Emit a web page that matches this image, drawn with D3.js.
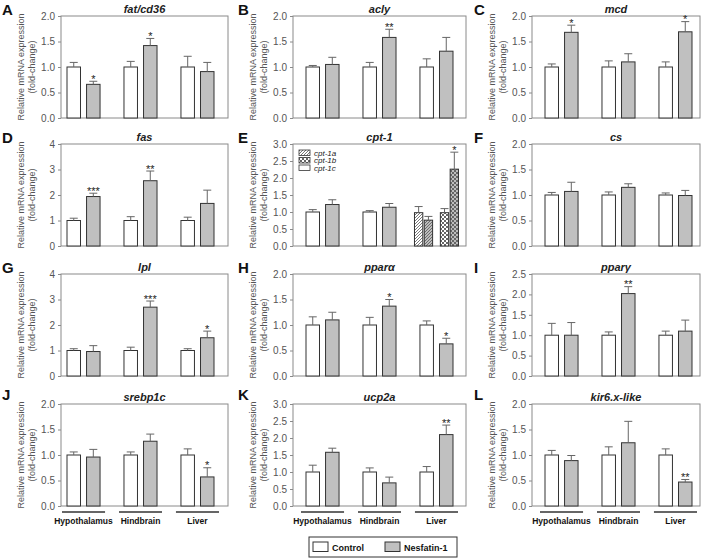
<!DOCTYPE html>
<html><head><meta charset="utf-8">
<script src="https://cdn.jsdelivr.net/npm/d3@7"></script>
<style>
body{margin:0;background:#fff}
svg{display:block}
text{font-family:"Liberation Sans",Arial,sans-serif}
</style>
</head><body>
<svg id="chart" width="708" height="560"></svg>
<script>
// ---------------- DATA ----------------
const groups = ["Hypothalamus", "Hindbrain", "Liver"];
const series = ["Control", "Nesfatin-1"];
const panelLetters = ["A","B","C","D","E","F","G","H","I","J","K","L"];
const genes = ["fat/cd36","acly","mcd","fas","cpt-1","cs","lpl","pparα","pparγ","srebp1c","ucp2a","kir6.x-like"];
const yMax  = [2, 2, 2, 4, 3, 2, 4, 2, 2.5, 2, 3, 2];
const yStep = [0.5,0.5,0.5,1,0.5,0.5,1,0.5,0.5,0.5,0.5,0.5];

// mean values per gene: [Hypothalamus, Hindbrain, Liver]
const controlMean = [
  [1.00,1.00,1.00],[1.00,1.00,1.00],[1.00,1.00,1.00],
  [1.00,1.00,1.00],[1.00,1.00,null],[1.00,1.00,1.00],
  [1.00,1.00,1.00],[1.00,1.00,1.00],[1.00,1.00,1.00],
  [1.00,1.00,1.00],[1.00,1.00,1.00],[1.00,1.00,1.00]
];
const controlSem = [
  [0.09,0.11,0.21],[0.03,0.09,0.16],[0.06,0.12,0.10],
  [0.09,0.15,0.13],[0.07,0.04,null],[0.05,0.06,0.04],
  [0.07,0.13,0.07],[0.16,0.15,0.08],[0.29,0.08,0.10],
  [0.06,0.06,0.12],[0.20,0.12,0.16],[0.09,0.16,0.12]
];
const nesfatinMean = [
  [0.66,1.42,0.91],[1.05,1.58,1.31],[1.68,1.10,1.69],
  [1.94,2.56,1.67],[1.22,1.14,null],[1.07,1.15,0.99],
  [0.96,2.70,1.50],[1.10,1.37,0.63],[1.00,2.02,1.10],
  [0.96,1.27,0.57],[1.58,0.68,2.10],[0.89,1.24,0.47]
];
const nesfatinSem = [
  [0.06,0.14,0.18],[0.14,0.16,0.27],[0.14,0.16,0.20],
  [0.13,0.38,0.52],[0.14,0.11,null],[0.18,0.07,0.10],
  [0.23,0.24,0.26],[0.15,0.13,0.11],[0.31,0.17,0.27],
  [0.15,0.14,0.18],[0.12,0.17,0.28],[0.10,0.42,0.05]
];
const nesfatinSig = [
  ["*","*",""],["","**",""],["*","","*"],
  ["***","**",""],["","",""],["","",""],
  ["","***","*"],["","*","*"],["","**",""],
  ["","","*"],["","","**"],["","","**"]
];
// cpt-1 liver isoforms (panel E)
const cptIsoforms = ["cpt-1a","cpt-1b","cpt-1c"];
const cptLiverIsoforms = ["cpt-1a","cpt-1b"];
const cptLiverMean = [[0.98,0.76],[0.98,2.26]];   // [isoform][Control, Nesfatin-1]
const cptLiverSem  = [[0.18,0.11],[0.12,0.50]];
const cptLiverSig  = [["",""],["","*"]];

// ---------------- LAYOUT ----------------
const svg = d3.select("#chart");
const colLeft = [61,293,532], colRight = [228,466,700], colBarStart = [67,306,545];
const rowTop = [16,144,274,404], plotH = 102;
const barsSpan = 147;
const letterX = [2,238,474], letterY = [15,143,273,400];
const fillCtrl = "#ffffff", fillNes = "#c0c0c0", barStroke = "#333";
const axisGray = "#8a8a8a", errGray = "#666";

// patterns
const defs = svg.append("defs");
function hatch(id, bg){
  const p = defs.append("pattern").attr("id",id).attr("patternUnits","userSpaceOnUse")
    .attr("width",3).attr("height",3);
  p.append("rect").attr("width",3).attr("height",3).attr("fill",bg);
  p.append("path").attr("d","M-1,1 l2,-2 M0,3 l3,-3 M2,4 l2,-2").attr("stroke","#555").attr("stroke-width",0.8);
}
function checker(id, bg){
  const p = defs.append("pattern").attr("id",id).attr("patternUnits","userSpaceOnUse")
    .attr("width",4).attr("height",4);
  p.append("rect").attr("width",4).attr("height",4).attr("fill",bg);
  p.append("rect").attr("width",2).attr("height",2).attr("fill","#666");
  p.append("rect").attr("x",2).attr("y",2).attr("width",2).attr("height",2).attr("fill","#666");
}
hatch("hatchCtrl","#ffffff"); hatch("hatchNes","#bdbdbd");
checker("checkCtrl","#ffffff"); checker("checkNes","#bdbdbd");
const cptFills = [["url(#hatchCtrl)","url(#hatchNes)"],["url(#checkCtrl)","url(#checkNes)"]];

function drawBar(g, xPos, w, y, v, e, fill, sig){
  g.append("rect").attr("x",xPos).attr("y",y(v)).attr("width",w).attr("height",y(0)-y(v))
    .attr("fill",fill).attr("stroke",barStroke).attr("stroke-width",1);
  const cx = xPos + w/2, top = y(v+e);
  g.append("line").attr("x1",cx).attr("x2",cx).attr("y1",y(v)).attr("y2",top)
    .attr("stroke",errGray).attr("stroke-width",1);
  g.append("line").attr("x1",cx-4).attr("x2",cx+4).attr("y1",top).attr("y2",top)
    .attr("stroke",errGray).attr("stroke-width",1);
  if (sig) g.append("text").attr("x",cx).attr("y",top+1.5).attr("text-anchor","middle")
    .attr("font-size",11).attr("fill","#222").text(sig);
}

genes.forEach((gene,i)=>{
  const r = Math.floor(i/3), c = i%3;
  const L = colLeft[c], R = colRight[c], T = rowTop[r], B = T+plotH;
  const y = d3.scaleLinear([0,yMax[i]],[B,T]);
  const x0 = d3.scaleBand(groups,[colBarStart[c], colBarStart[c]+barsSpan]).paddingInner(0.42).paddingOuter(0);
  const x1 = d3.scaleBand(series,[0,x0.bandwidth()]).paddingInner(0.31);
  const g = svg.append("g");

  // panel letter
  g.append("text").attr("x",letterX[c]).attr("y",letterY[r]).attr("font-size",15)
    .attr("font-weight","bold").attr("fill","#111").text(panelLetters[i]);
  // title
  g.append("text").attr("x",(L+R)/2).attr("y",T-3).attr("text-anchor","middle")
    .attr("font-size",11).attr("font-style","italic").attr("font-weight","bold").attr("fill","#222").text(gene);
  // y label
  const yl = g.append("text").attr("transform",`translate(${L-40},${(T+B)/2}) rotate(-90)`)
    .attr("text-anchor","middle").attr("font-size",9).attr("fill","#555");
  yl.append("tspan").attr("x",0).attr("dy","0.35em").text("Relative mRNA expression");
  yl.append("tspan").attr("x",0).attr("dy","1.2em").text("(fold-change)");

  // axis
  const ticks = d3.range(0, yMax[i]+1e-9, yStep[i]);
  const ax = g.append("g").attr("transform",`translate(${L},0)`)
    .call(d3.axisLeft(y).tickValues(ticks).tickSize(3).tickPadding(3)
      .tickFormat(yStep[i]===1 ? d3.format("d") : d3.format(".1f")));
  ax.select(".domain").remove();
  ax.selectAll("line").attr("stroke",axisGray);
  ax.selectAll("text").attr("font-size",10).attr("fill","#555").attr("font-family",null);
  // frame
  g.append("rect").attr("x",L).attr("y",T).attr("width",R-L).attr("height",plotH)
    .attr("fill","none").attr("stroke",axisGray).attr("stroke-width",1);

  groups.forEach((grp,gi)=>{
    if (controlMean[i][gi] === null) {
      // cpt-1 liver isoforms
      const cx = x0(grp) + x0.bandwidth()/2;
      const xs = d3.scaleBand(cptLiverIsoforms,[cx-22,cx+22]).paddingInner(0.3);
      const xb = d3.scaleBand(series,[0,xs.bandwidth()]).paddingInner(0.15);
      cptLiverIsoforms.forEach((iso,k)=>{
        series.forEach((s,si)=>{
          drawBar(g, xs(iso)+xb(s), xb.bandwidth(), y, cptLiverMean[k][si], cptLiverSem[k][si],
            cptFills[k][si], cptLiverSig[k][si]);
        });
      });
      return;
    }
    drawBar(g, x0(grp)+x1("Control"), x1.bandwidth(), y, controlMean[i][gi], controlSem[i][gi], fillCtrl, "");
    drawBar(g, x0(grp)+x1("Nesfatin-1"), x1.bandwidth(), y, nesfatinMean[i][gi], nesfatinSem[i][gi], fillNes, nesfatinSig[i][gi]);
  });

  // cpt-1 legend
  if (gene === "cpt-1") {
    const legFills = ["url(#hatchCtrl)","url(#checkCtrl)","#ffffff"];
    cptIsoforms.forEach((iso,k)=>{
      const yy = T + 6 + k*7.5;
      g.append("rect").attr("x",L+6).attr("y",yy).attr("width",11).attr("height",5.5)
        .attr("fill",legFills[k]).attr("stroke",barStroke).attr("stroke-width",0.8);
      g.append("text").attr("x",L+21).attr("y",yy+5.5).attr("font-size",8).attr("font-style","italic")
        .attr("fill","#222").text(iso);
    });
  }

  // group labels on bottom row
  if (r === 3) {
    groups.forEach(grp=>{
      g.append("line").attr("x1",x0(grp)-5).attr("x2",x0(grp)+x0.bandwidth()+5)
        .attr("y1",B+6).attr("y2",B+6).attr("stroke","#333").attr("stroke-width",1.3);
      g.append("text").attr("x",x0(grp)+x0.bandwidth()/2).attr("y",B+18).attr("text-anchor","middle")
        .attr("font-size",8.5).attr("font-weight","bold").attr("fill","#111").text(grp);
    });
  }
});

// main legend
const lg = svg.append("g");
lg.append("rect").attr("x",309).attr("y",537).attr("width",148).attr("height",20)
  .attr("fill","none").attr("stroke","#333").attr("stroke-width",1);
const legX = [313,385], legFill = [fillCtrl, fillNes];
series.forEach((s,k)=>{
  lg.append("rect").attr("x",legX[k]).attr("y",542).attr("width",15).attr("height",9.5)
    .attr("fill",legFill[k]).attr("stroke",barStroke).attr("stroke-width",1);
  lg.append("text").attr("x",legX[k]+19).attr("y",551).attr("font-size",9).attr("font-weight","bold")
    .attr("fill","#111").text(s);
});
</script>
</body></html>
